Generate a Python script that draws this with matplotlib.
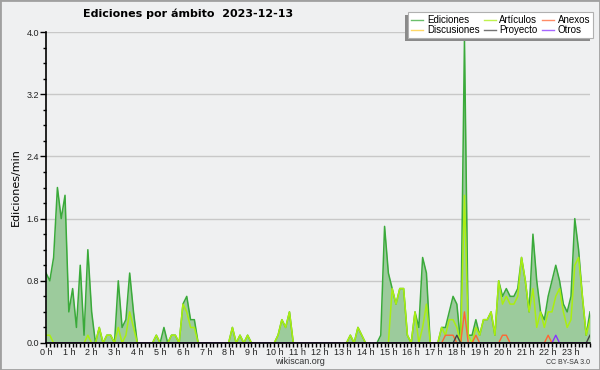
import numpy as np
import matplotlib
matplotlib.use("Agg")
import matplotlib.pyplot as plt
from matplotlib.ticker import MultipleLocator, FormatStrFormatter
from matplotlib.patches import Rectangle
from matplotlib.lines import Line2D

# 10-minute buckets (144 per day), edits per minute
ediciones = [0.9, 0.8, 1.1, 2.0, 1.6, 1.9, 0.4, 0.7, 0.2, 1.0, 0.1, 1.2,
             0.4, 0.0, 0.2, 0.0, 0.1, 0.1, 0.0, 0.8, 0.2, 0.3, 0.9, 0.4,
             0.0, 0.0, 0.0, 0.0, 0.0, 0.1, 0.0, 0.2, 0.0, 0.1, 0.1, 0.0,
             0.5, 0.6, 0.3, 0.3, 0.0, 0.0, 0.0, 0.0, 0.0, 0.0, 0.0, 0.0,
             0.0, 0.2, 0.0, 0.1, 0.0, 0.1, 0.0, 0.0, 0.0, 0.0, 0.0, 0.0,
             0.0, 0.1, 0.3, 0.2, 0.4, 0.0, 0.0, 0.0, 0.0, 0.0, 0.0, 0.0,
             0.0, 0.0, 0.0, 0.0, 0.0, 0.0, 0.0, 0.0, 0.1, 0.0, 0.2, 0.1,
             0.0, 0.0, 0.0, 0.0, 0.1, 1.5, 0.9, 0.7, 0.5, 0.7, 0.7, 0.1,
             0.0, 0.4, 0.2, 1.1, 0.9, 0.0, 0.0, 0.0, 0.2, 0.2, 0.4, 0.6,
             0.5, 0.0, 3.9, 0.1, 0.1, 0.3, 0.1, 0.3, 0.3, 0.4, 0.1, 0.8,
             0.6, 0.7, 0.6, 0.6, 0.7, 1.1, 0.8, 0.4, 1.4, 0.8, 0.4, 0.3,
             0.6, 0.8, 1.0, 0.8, 0.5, 0.4, 0.6, 1.6, 1.2, 0.6, 0.1, 0.4]

articulos = [0.1, 0.1, 0.0, 0.0, 0.0, 0.0, 0.0, 0.0, 0.0, 0.0, 0.0, 0.1,
             0.0, 0.0, 0.2, 0.0, 0.1, 0.1, 0.0, 0.2, 0.0, 0.1, 0.4, 0.2,
             0.0, 0.0, 0.0, 0.0, 0.0, 0.1, 0.0, 0.0, 0.0, 0.1, 0.1, 0.0,
             0.5, 0.4, 0.2, 0.2, 0.0, 0.0, 0.0, 0.0, 0.0, 0.0, 0.0, 0.0,
             0.0, 0.2, 0.0, 0.1, 0.0, 0.1, 0.0, 0.0, 0.0, 0.0, 0.0, 0.0,
             0.0, 0.1, 0.3, 0.2, 0.4, 0.0, 0.0, 0.0, 0.0, 0.0, 0.0, 0.0,
             0.0, 0.0, 0.0, 0.0, 0.0, 0.0, 0.0, 0.0, 0.1, 0.0, 0.2, 0.1,
             0.0, 0.0, 0.0, 0.0, 0.0, 0.0, 0.0, 0.7, 0.5, 0.7, 0.7, 0.1,
             0.0, 0.4, 0.0, 0.2, 0.5, 0.0, 0.0, 0.0, 0.2, 0.1, 0.3, 0.3,
             0.2, 0.0, 1.9, 0.1, 0.0, 0.2, 0.1, 0.3, 0.3, 0.4, 0.1, 0.8,
             0.5, 0.6, 0.5, 0.5, 0.6, 1.1, 0.8, 0.4, 0.7, 0.2, 0.4, 0.2,
             0.4, 0.4, 0.6, 0.7, 0.4, 0.2, 0.3, 1.0, 1.1, 0.6, 0.1, 0.3]

discusiones = [0.0] * 144

anexos = [0.0] * 144
for k, v in {105: 0.1, 106: 0.1, 107: 0.1, 110: 0.4, 113: 0.1,
             120: 0.1, 121: 0.1, 132: 0.1}.items():
    anexos[k] = v

proyecto = [0.0] * 144
for k, v in {108: 0.1, 143: 0.1}.items():
    proyecto[k] = v

otros = [0.0] * 144
otros[134] = 0.1

hour_labels = [f"{h} h" for h in range(24)]
y_ticks = [0.0, 0.8, 1.6, 2.4, 3.2, 4.0]

series_names = ["Ediciones", "Discusiones", "Artículos", "Proyecto", "Anexos", "Otros"]
series_colors = {"Ediciones": "#3aaa3a", "Artículos": "#aaee11",
                 "Discusiones": "#ffcc33", "Anexos": "#ff6633",
                 "Proyecto": "#444444", "Otros": "#8833ff"}

BG = "#eff0f1"
W, H = 600, 370
fig = plt.figure(figsize=(6.0, 3.7), dpi=100, facecolor=BG)
ax = fig.add_axes([46 / W, 27 / H, 544 / W, 311 / H], facecolor=BG)

x = np.arange(len(ediciones)) / 6.0

ax.fill_between(x, 0, ediciones, color="#9ccb9c", lw=0, zorder=1)
ax.plot(x, ediciones, color=series_colors["Ediciones"], lw=1.1, zorder=2)
ax.plot(x, discusiones, color=series_colors["Discusiones"], lw=1.0, zorder=2.05)
ax.plot(x, articulos, color=series_colors["Artículos"], lw=1.1, zorder=2.1)
ax.plot(x, anexos, color=series_colors["Anexos"], lw=1.0, zorder=2.2)
ax.plot(x, proyecto, color=series_colors["Proyecto"], lw=1.0, zorder=2.3)
ax.plot(x, otros, color=series_colors["Otros"], lw=1.0, zorder=2.3)

ax.set_xlim(0, x[-1])
ax.set_ylim(0, 4.0)

for s in ("top", "right"):
    ax.spines[s].set_visible(False)
for s in ("left", "bottom"):
    ax.spines[s].set_color("black")
    ax.spines[s].set_linewidth(1.2)
    ax.spines[s].set_zorder(5)

ax.set_xticks(range(24))
ax.set_xticklabels(hour_labels, family="Liberation Sans")
ax.xaxis.set_minor_locator(MultipleLocator(1 / 6))
ax.tick_params(axis="x", which="both", direction="out", length=3, width=1,
               labelsize=6.5, pad=0.5, colors="black", labelcolor="#222222")

ax.set_yticks(y_ticks)
ax.yaxis.set_major_formatter(FormatStrFormatter("%.1f"))
ax.yaxis.set_minor_locator(MultipleLocator(0.2))
ax.tick_params(axis="y", which="major", direction="out", length=4, width=1,
               labelsize=6.5, pad=1, labelcolor="#222222")
ax.tick_params(axis="y", which="minor", direction="out", length=2, width=1)
for lab in ax.get_yticklabels():
    lab.set_family("Liberation Sans")
ax.grid(axis="y", which="major", color="#c8c8c8", lw=1, zorder=0)
ax.set_axisbelow(True)

ax.set_ylabel("Ediciones/min", fontsize=8, labelpad=4)

fig.text(188 / W, 1 - 14 / H, "Ediciones por ámbito  2023-12-13",
         ha="center", va="center", fontsize=8, fontweight="bold")
fig.text(300 / W, 1 - 361 / H, "wikiscan.org", ha="center", va="center",
         fontsize=6.5, color="#333333", family="Liberation Sans")
fig.text(590 / W, 1 - 362 / H, "CC BY-SA 3.0", ha="right", va="center",
         fontsize=5, color="#333333", family="Liberation Sans")

handles = [Line2D([], [], color=series_colors[n], lw=1.0, alpha=0.75)
           for n in series_names]
leg = fig.legend(handles, series_names, ncol=3,
                 loc="upper right", bbox_to_anchor=(593 / W, 1 - 12 / H),
                 prop={"family": "Liberation Sans", "size": 7},
                 frameon=True, fancybox=False, shadow=False,
                 handlelength=1.2, handletextpad=0.4, columnspacing=0.45,
                 labelspacing=0.0, borderpad=0.3, borderaxespad=0)
leg.set_zorder(10)
leg.get_frame().set_facecolor("white")
leg.get_frame().set_edgecolor("#b0b0b0")
leg.get_frame().set_linewidth(0.8)
leg.get_frame().set_alpha(1)

# legend shadow, offset to the left and down
fig.canvas.draw()
bb = leg.get_window_extent().transformed(fig.transFigure.inverted())
fig.patches.append(Rectangle((bb.x0 - 3 / W, bb.y0 - 3 / H), bb.width, bb.height,
                             transform=fig.transFigure, facecolor="#8a8a8a",
                             edgecolor="none", zorder=3))

fig.patches.append(Rectangle((0, 0), 1, 1, transform=fig.transFigure,
                             fill=False, edgecolor="#a0a0a0", lw=2, zorder=20))

fig.savefig("out.png", dpi=100, facecolor=BG)
